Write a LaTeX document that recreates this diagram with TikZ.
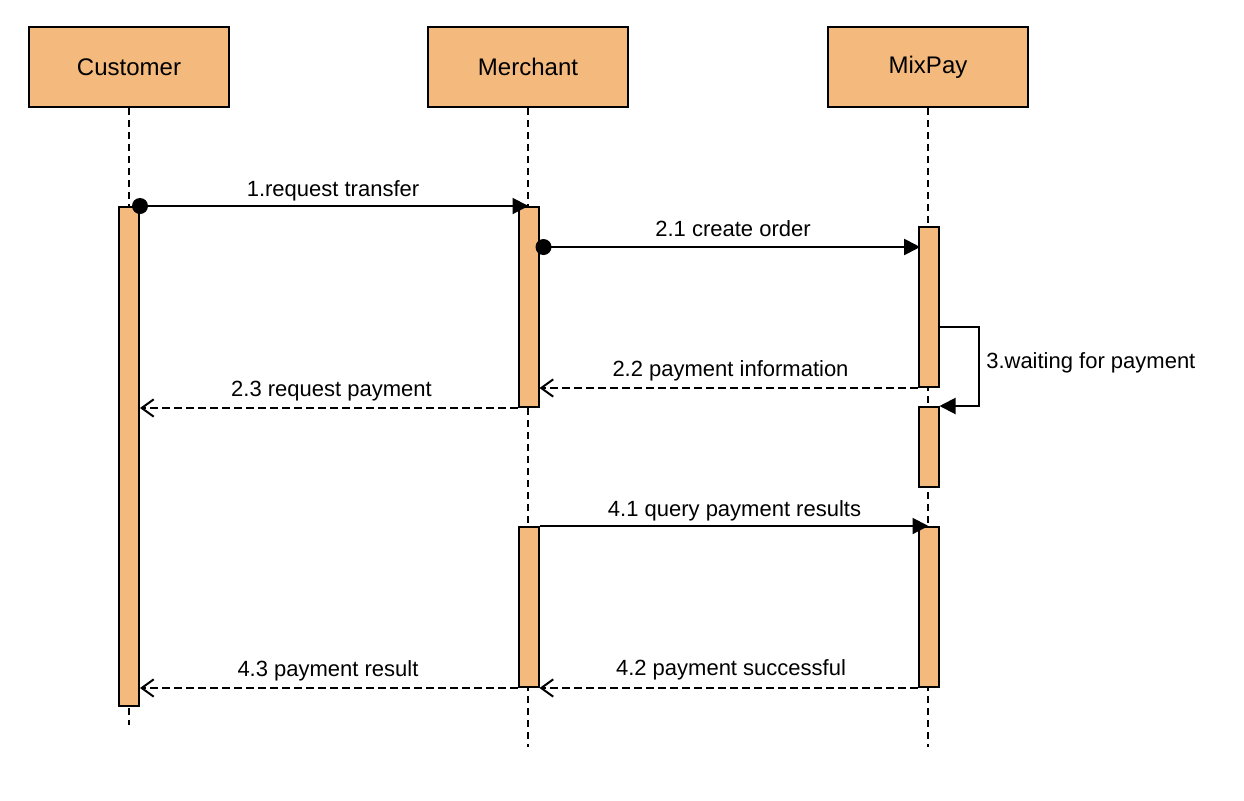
\documentclass[tikz,border=0pt]{standalone}
\usepackage{fontspec}
\setmainfont{Liberation Sans}
\usetikzlibrary{arrows.meta}
\definecolor{actc}{RGB}{243,185,125}
\begin{document}
\begin{tikzpicture}[x=0.75pt,y=-0.75pt,
  head/.style={draw, line width=1.5pt, fill=actc, minimum width=150pt, minimum height=60pt, font=\fontsize{18}{22}\selectfont, inner sep=0},
  bar/.style={draw, line width=1.5pt, fill=actc, minimum width=15pt, inner sep=0},
  life/.style={line width=1.5pt, dash pattern=on 5.5pt off 3.5pt},
  msg/.style={line width=1.5pt, -{Triangle[length=12pt,width=12pt]}},
  ret/.style={line width=1.5pt, dash pattern=on 5.5pt off 3.5pt, -{Straight Barb[length=9pt,width=13pt,line width=1.5pt]}},
  lbl/.style={font=\fontsize{16.5}{20}\selectfont, inner sep=0, anchor=base},
  dot/.style={fill=black},
]
\useasboundingbox (0,0) rectangle (1244,800);
% headers
\node[head] (cust) at (129,67) {Customer};
\node[head] (merc) at (528,67) {Merchant};
\node[head] (mixp) at (928,67) {MixPay};
% lifeline ends
\coordinate (cend) at (129,725);
\coordinate (mend) at (528,747);
\coordinate (pend) at (928,747);
\draw[life] (cust.south) -- (cend);
\draw[life] (merc.south) -- (mend);
\draw[life] (mixp.south) -- (pend);
% activation bars
\node[bar, minimum height=374.25pt] (ca) at (129,456.5) {};
\node[bar, minimum height=150pt] (ma1) at (528.5,307) {};
\node[bar, minimum height=120pt] (ma2) at (528.5,607) {};
\node[bar, minimum height=120pt] (pa1) at (928.5,307) {};
\node[bar, minimum height=60pt] (pa2) at (928.5,447) {};
\node[bar, minimum height=120pt] (pa3) at (928.5,607) {};
% 1
\draw[msg] (ca.north east) -- (ma1.north);
\fill[dot] (ca.north east) circle[radius=6pt];
\node[lbl] (l1) at (333,196) {1.request transfer};
% 2.1
\coordinate (t21) at ([yshift=45pt,xshift=2pt]pa1.west);
\draw[msg] (ma1.east |- t21) -- (t21);
\fill[dot] ([xshift=3pt]ma1.east |- t21) circle[radius=6pt];
\node[lbl] (l21) at (733,236) {2.1 create order};
% 2.2
\draw[ret] (pa1.south west) -- (ma1.east |- pa1.south west);
\node[lbl] (l22) at (730.5,376) {2.2 payment information};
% 2.3
\draw[ret] (ma1.south west) -- (ca.east |- ma1.south west);
\node[lbl] (l23) at (331.5,396) {2.3 request payment};
% 3 self
\draw[msg] ([yshift=-15pt]pa1.east) -- ++(39,0) |- (pa2.north east);
\node[lbl, anchor=base west] (l3) at (986,368) {3.waiting for payment};
% 4.1
\draw[msg] (ma2.north east) -- (pa3.north);
\node[lbl] (l41) at (734.5,516) {4.1 query payment results};
% 4.2
\draw[ret] (pa3.south west) -- (ma2.south east);
\node[lbl] (l42) at (731,675) {4.2 payment successful};
% 4.3
\draw[ret] (ma2.south west) -- (ca.east |- ma2.south west);
\node[lbl] (l43) at (328,676) {4.3 payment result};
\end{tikzpicture}
\end{document}
